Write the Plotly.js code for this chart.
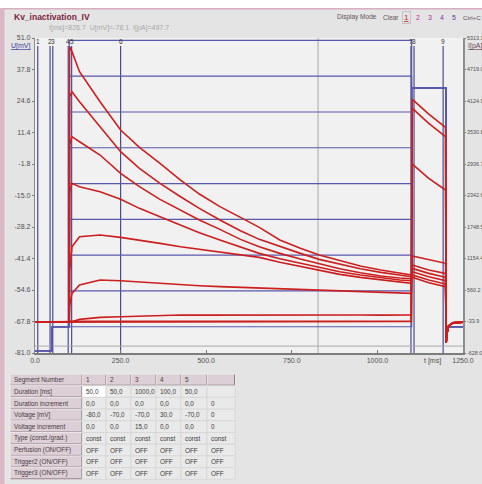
<!DOCTYPE html>
<html>
<head>
<meta charset="utf-8">
<script src="https://cdn.plot.ly/plotly-3.0.1.min.js"></script>
<style>
  html, body { margin: 0; padding: 0; background: #e4e4e4; }
  #chart { width: 482px; height: 484px; }
</style>
</head>
<body>
<div id="chart"></div>
<script>
// ---- Pulse protocol (segment table) ----
const SEG_NUMBER      = [1, 2, 3, 4, 5];
const SEG_DURATION_MS = [50, 50, 1000, 100, 50];
const SEG_DUR_INC     = [0, 0, 0, 0, 0];
const SEG_VOLTAGE_MV  = [-80, -70, -70, 30, -70];
const SEG_VOLT_INC    = [0, 0, 15, 0, 0];
const SEG_TYPE        = ['const', 'const', 'const', 'const', 'const', 'const'];
const SEG_PERFUSION   = ['OFF', 'OFF', 'OFF', 'OFF', 'OFF', 'OFF'];
const SEG_TRIGGER2    = ['OFF', 'OFF', 'OFF', 'OFF', 'OFF', 'OFF'];
const SEG_TRIGGER3    = ['OFF', 'OFF', 'OFF', 'OFF', 'OFF', 'OFF'];

// conditioning (segment 3) voltage of each sweep, mV
const SWEEP_MV = [-70, -55, -40, -25, -10, 5, 20, 35, 50];

// ---- Recorded currents (pA) ----
const HOLD_T  = [0, 100];
const HOLD_PA = [-45, -45];

const SEG3_T = [101, 108, 130, 190, 250, 305, 365, 425, 480, 540, 600, 655, 715, 775, 830, 890, 950, 1010, 1065, 1099];
const SEG3_PA = [
  [-35, -35, -35, -35, -35, -35, -35, -35, -35, -35, -35, -35, -35, -35, -35, -35, -35, -35, -35, -35],
  [-28, -28, -28, -28, -28, -28, -28, -28, -28, -28, -28, -28, -28, -28, -28, -28, -28, -28, -28, -28],
  [-40, -37, 6, 44, 57, 69, 82, 88, 86, 88, 90, 88, 86, 88, 88, 90, 88, 86, 88, 88],
  [250, 497, 654, 748, 736, 711, 686, 667, 641, 623, 610, 597, 585, 572, 560, 547, 535, 522, 509, 497],
  [900, 1377, 1566, 1597, 1553, 1503, 1440, 1377, 1327, 1276, 1220, 1176, 1082, 1000, 925, 855, 799, 748, 704, 686],
  [2400, 2572, 2509, 2414, 2270, 2100, 1943, 1786, 1641, 1503, 1377, 1251, 1151, 1063, 981, 905, 843, 792, 748, 736],
  [3300, 3452, 3357, 3106, 2760, 2509, 2270, 2068, 1880, 1704, 1515, 1377, 1251, 1144, 1050, 962, 887, 824, 786, 773],
  [4200, 4300, 4112, 3640, 3169, 2854, 2572, 2320, 2100, 1880, 1679, 1515, 1377, 1251, 1138, 1044, 962, 893, 843, 811],
  [5150, 5055, 4678, 4112, 3578, 3251, 2949, 2634, 2370, 2132, 1930, 1742, 1503, 1346, 1220, 1113, 1012, 937, 874, 843]
];

const SEG4_T = [1102, 1150, 1199];
const SEG4_PA = [
  [4156, 3879, 3628],
  [3986, 3703, 3452],
  [2936, 2666, 2446],
  [1201, 1126, 1063],
  [1031, 937, 874],
  [968, 874, 799],
  [905, 811, 736],
  [843, 748, 673],
  [799, 698, 623]
];

const SEG5_T  = [1201, 1203, 1208, 1220, 1250];
const SEG5_PA = [-430, -260, -120, -60, -45];

// ---- Cursor markers and crosshair ----
const MARKER_T     = [8, 44, 52, 97, 107, 250, 1098, 1107, 1192];
const MARKER_LABEL = ['1', '2', '3', '4', '5', '6', '7', '8', '9'];
const CURSOR_T_MS = 826.7;
const CURSOR_U_MV = -78.1;
const CURSOR_I_PA = 497.7;

// ---- Axis ticks ----
const T_TICKS  = [0, 250, 500, 750, 1000, 1250];
const T_LABELS = ['0.0', '250.0', '500.0', '750.0', '1000.0', '1250.0'];
const U_TICKS  = [51.0, 37.8, 24.6, 11.4, -1.8, -15.0, -28.2, -41.4, -54.6, -67.8, -81.0];
const I_TICKS  = [5313.1, 4719.0, 4124.9, 3530.8, 2936.7, 2342.6, 1748.5, 1154.4, 560.2, -33.9, -628.0];

// ---- Styling ----
const W = 482, H = 484;
const FONT = 'Liberation Sans, Arial, sans-serif';
const RED = '#cc1e1e';
const PROTO_BLUE = '#5959ad';
const MARKER_BLUE = '#4b4b8e';
const GREY_TXT = '#4f4f4f';
const PLOT_L = 35, PLOT_R = 463, PLOT_T = 38, PLOT_B = 353;
const px = v => v / W;
const py = v => 1 - v / H;

// segment boundaries from durations
const bounds = [0];
SEG_DURATION_MS.forEach(d => bounds.push(bounds[bounds.length - 1] + d));

const traces = [];

// voltage protocol, one polyline per sweep (left axis)
SWEEP_MV.forEach(v3 => {
  const xs = [], ys = [];
  SEG_VOLTAGE_MV.forEach((v, k) => {
    const lvl = (k === 2) ? v3 : v;
    xs.push(bounds[k], bounds[k + 1]);
    ys.push(lvl, lvl);
  });
  traces.push({
    type: 'scatter', mode: 'lines', x: xs, y: ys,
    xaxis: 'x', yaxis: 'y', hoverinfo: 'skip', showlegend: false,
    line: { color: PROTO_BLUE, width: 1.2 }
  });
});

// current sweeps (right axis)
SWEEP_MV.forEach((v3, i) => {
  traces.push({
    type: 'scatter', mode: 'lines',
    x: HOLD_T.concat(SEG3_T, SEG4_T, SEG5_T),
    y: HOLD_PA.concat(SEG3_PA[i], SEG4_PA[i], SEG5_PA),
    xaxis: 'x', yaxis: 'y2', hoverinfo: 'skip', showlegend: false,
    line: { color: RED, width: 1.6 }
  });
});

// shapes: window frame, markers, cursor
const shapes = [
  { type: 'rect', xref: 'paper', yref: 'paper', x0: 0, x1: 1, y0: py(8), y1: 1, fillcolor: '#ffffff', line: { width: 0 }, layer: 'below' },
  { type: 'rect', xref: 'paper', yref: 'paper', x0: 0, x1: 1, y0: py(9.5), y1: py(8), fillcolor: '#d8aec1', line: { width: 0 }, layer: 'below' },
  { type: 'rect', xref: 'paper', yref: 'paper', x0: 0, x1: px(4.5), y0: 0, y1: py(8), fillcolor: '#dab6c7', line: { width: 0 }, layer: 'below' }
];
MARKER_T.forEach(t => shapes.push({
  type: 'line', xref: 'x', yref: 'paper', x0: t, x1: t, y0: py(PLOT_B), y1: py(46),
  line: { color: MARKER_BLUE, width: 1.2 }, layer: 'below'
}));
shapes.push({
  type: 'line', xref: 'x', yref: 'paper', x0: CURSOR_T_MS, x1: CURSOR_T_MS, y0: py(PLOT_B), y1: py(PLOT_T),
  line: { color: '#a9a9a9', width: 1 }, layer: 'below'
});
shapes.push({
  type: 'line', xref: 'paper', yref: 'y', x0: px(PLOT_L), x1: px(PLOT_R), y0: CURSOR_U_MV, y1: CURSOR_U_MV,
  line: { color: '#a9a9a9', width: 1 }, layer: 'below'
});

// text annotations
const ann = (x, y, text, opts) => Object.assign({
  xref: 'paper', yref: 'paper', x: px(x), y: py(y), text: text, showarrow: false,
  xanchor: 'left', yanchor: 'middle', font: { family: FONT, size: 7, color: GREY_TXT }
}, opts || {});

const annotations = [
  ann(12, 17, '<b>Kv_inactivation_IV</b>', { font: { family: FONT, size: 8.5, color: '#7d1f3e' } }),
  ann(47, 28, 't[ms]=' + CURSOR_T_MS.toFixed(1) + '  U[mV]=' + CURSOR_U_MV.toFixed(1) + '  I[pA]=' + CURSOR_I_PA.toFixed(1),
    { font: { family: FONT, size: 7, color: '#a8a8a8' } }),
  ann(335, 17, 'Display Mode', { font: { family: FONT, size: 6.5, color: '#5e5258' } }),
  ann(381, 17, 'Clear', { font: { family: FONT, size: 6.5, color: '#5e5258' } }),
  ann(406, 17, '<u>1</u>', { xanchor: 'center', font: { family: FONT, size: 8, color: '#cc2020' }, bordercolor: '#c8c0c4', borderwidth: 1, borderpad: 1 }),
  ann(418, 17, '2', { xanchor: 'center', font: { family: FONT, size: 7, color: '#cf2a8c' } }),
  ann(430, 17, '3', { xanchor: 'center', font: { family: FONT, size: 7, color: '#a6329c' } }),
  ann(442, 17, '4', { xanchor: 'center', font: { family: FONT, size: 7, color: '#7d34aa' } }),
  ann(454, 17, '5', { xanchor: 'center', font: { family: FONT, size: 7, color: '#5c36a0' } }),
  ann(461, 17, 'Ctrl+C', { font: { family: FONT, size: 6.2, color: '#5e5258' } }),
  ann(33, 46, '<u>U[mV]</u>', { xanchor: 'right', font: { family: FONT, size: 7, color: '#3c3c9a' } }),
  ann(466, 46, '<u>I[pA]</u>', { font: { family: FONT, size: 7, color: '#6c4a58' } }),
  { xref: 'x domain', yref: 'paper', x: (432 - PLOT_L) / (PLOT_R - PLOT_L), y: py(360.5), text: 't [ms]',
    showarrow: false, xanchor: 'center', yanchor: 'middle', font: { family: FONT, size: 7, color: GREY_TXT } }
];
MARKER_T.forEach((t, i) => annotations.push({
  xref: 'x', yref: 'paper', x: t, y: py(41.5), text: MARKER_LABEL[i], showarrow: false,
  xanchor: 'center', yanchor: 'middle', font: { family: FONT, size: 6.5, color: '#333' }
}));

// ---- segment table (drawn as cells in paper space) ----
const fmt = v => v.toFixed(1).replace('.', ',');
const ROW_LABELS = ['Duration [ms]', 'Duration increment', 'Voltage [mV]', 'Voltage increment',
  'Type (const./grad.)', 'Perfusion (ON/OFF)', 'Trigger2 (ON/OFF)', 'Trigger3 (ON/OFF)'];
const tableCols = [['Segment Number'].concat(ROW_LABELS)];
SEG_NUMBER.forEach((n, k) => {
  tableCols.push([String(n), fmt(SEG_DURATION_MS[k]), fmt(SEG_DUR_INC[k]), fmt(SEG_VOLTAGE_MV[k]), fmt(SEG_VOLT_INC[k]),
    SEG_TYPE[k], SEG_PERFUSION[k], SEG_TRIGGER2[k], SEG_TRIGGER3[k]]);
});
tableCols.push(['', '', '0', '0', '0', SEG_TYPE[5], SEG_PERFUSION[5], SEG_TRIGGER2[5], SEG_TRIGGER3[5]]);

const COL_EDGES = [10, 82, 106, 131, 156, 181, 207, 235];
const ROW_TOP = 374, ROW_H = 11.7;
const LABEL_FILL = '#dcd0d6', CELL_FILL = '#e9e9e9', SEL_FILL = '#ffffff';

tableCols.forEach((col, c) => {
  col.forEach((txt, r) => {
    const x0 = COL_EDGES[c], x1 = COL_EDGES[c + 1];
    const y0 = ROW_TOP + r * ROW_H, y1 = y0 + ROW_H;
    const isLabel = (c === 0 || r === 0);
    const fill = isLabel ? LABEL_FILL : (c === 1 && r === 1 ? SEL_FILL : CELL_FILL);
    shapes.push({
      type: 'rect', xref: 'paper', yref: 'paper', x0: px(x0), x1: px(x1), y0: py(y1), y1: py(y0),
      fillcolor: fill, line: { color: isLabel ? '#f4eef1' : '#d6d6d6', width: 0.8 }, layer: 'below'
    });
    if (isLabel) {
      // raised-button edge
      shapes.push({
        type: 'path', xref: 'paper', yref: 'paper',
        path: 'M' + px(x0 + 0.5) + ',' + py(y1 - 0.5) + ' L' + px(x1 - 0.5) + ',' + py(y1 - 0.5) + ' L' + px(x1 - 0.5) + ',' + py(y0 + 0.5),
        line: { color: '#8f7f87', width: 1 }, layer: 'below'
      });
    }
    if (txt !== '') {
      annotations.push({
        xref: 'paper', yref: 'paper', x: px(x0 + 1.5), y: py(y0 + ROW_H / 2), text: txt, showarrow: false,
        xanchor: 'left', yanchor: 'middle', font: { family: FONT, size: 6.4, color: isLabel ? '#4a3a44' : '#3a3a3a' }
      });
    }
  });
});

const axisFont = { family: FONT, size: 7, color: GREY_TXT };

const layout = {
  width: W, height: H, autosize: false,
  margin: { l: 0, r: 0, t: 0, b: 0, pad: 0 },
  paper_bgcolor: '#e4e4e4',
  plot_bgcolor: '#f1f1f1',
  showlegend: false,
  xaxis: {
    domain: [px(PLOT_L), px(PLOT_R)], range: [0, 1250], anchor: 'y',
    tickmode: 'array', tickvals: T_TICKS, ticktext: T_LABELS,
    ticks: 'inside', ticklen: 3, tickcolor: '#777', tickfont: axisFont,
    showline: true, linecolor: '#7c7c7c', linewidth: 1.5,
    showgrid: false, zeroline: false, fixedrange: true
  },
  yaxis: {
    domain: [py(PLOT_B), py(PLOT_T)], range: [-81, 51], anchor: 'x',
    tickmode: 'array', tickvals: U_TICKS, ticktext: U_TICKS.map(v => v.toFixed(1)),
    ticks: 'outside', ticklen: 2, tickcolor: '#777', tickfont: axisFont, ticklabelstandoff: 0,
    showline: true, linecolor: '#8a8a8a', linewidth: 1.2,
    showgrid: false, zeroline: false, fixedrange: true
  },
  yaxis2: {
    overlaying: 'y', side: 'right', anchor: 'x', range: [-628.0, 5313.1],
    tickmode: 'array', tickvals: I_TICKS, ticktext: I_TICKS.map(v => v.toFixed(1)),
    ticks: 'outside', ticklen: 1.5, tickcolor: '#777',
    tickfont: { family: FONT, size: 5.4, color: GREY_TXT }, ticklabelstandoff: 0,
    showline: true, linecolor: '#8e8e8e', linewidth: 1.5,
    showgrid: false, zeroline: false, fixedrange: true
  },
  shapes: shapes,
  annotations: annotations
};

Plotly.newPlot('chart', traces, layout, { displayModeBar: false, staticPlot: true });
</script>
</body>
</html>
